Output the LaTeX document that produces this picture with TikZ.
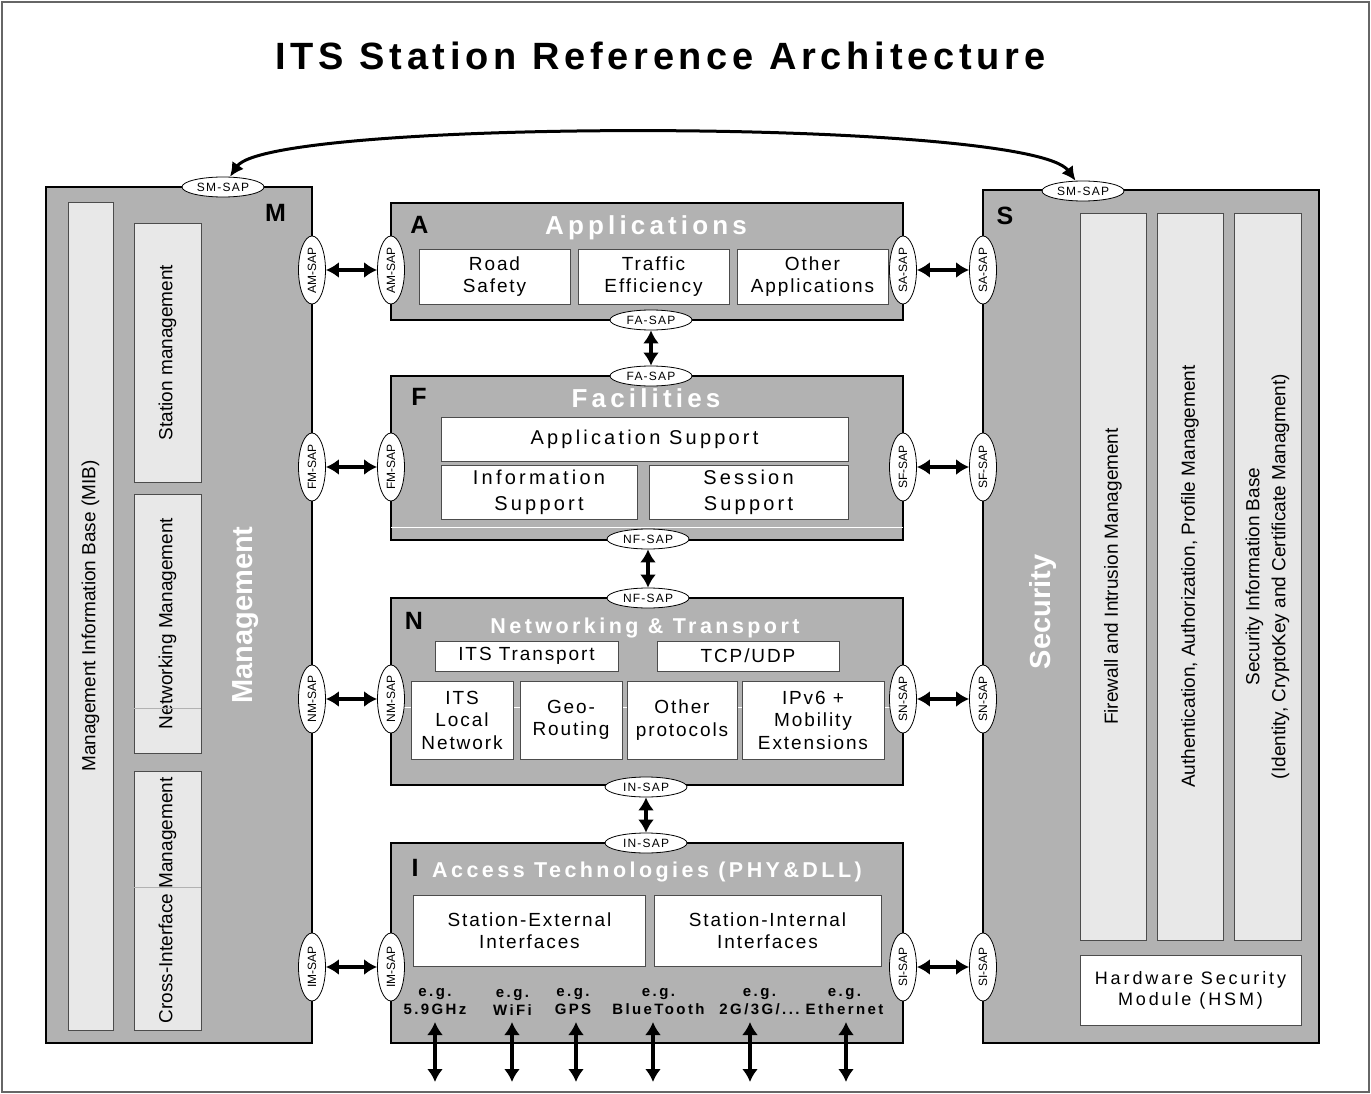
\documentclass[tikz,border=0pt]{standalone}
\usepackage{fontspec}
\setmainfont{Liberation Sans}
\newfontfamily\espfont[LetterSpace=10]{Liberation Sans}
\newfontfamily\larfont[LetterSpace=16]{Liberation Sans}
\newfontfamily\titrefont[LetterSpace=12.5]{Liberation Sans}
\usetikzlibrary{shapes.geometric,arrows.meta}
\definecolor{grisfonce}{gray}{0.70}
\definecolor{grisclair}{gray}{0.91}
\begin{document}
\begin{tikzpicture}[x=1pt,y=-1pt]
	\tikzstyle{couche}=[draw=black,line width=1.6pt,fill=grisfonce,inner sep=0pt,outer sep=0pt]
	\tikzstyle{colonne}=[draw=black!70,line width=0.9pt,fill=grisclair,inner sep=0pt,outer sep=0pt,rotate=90,align=center,font=\fontsize{19}{26}\selectfont]
	\tikzstyle{boite}=[draw=black!70,line width=0.9pt,fill=white,inner sep=0pt,outer sep=0pt,align=center,font=\espfont\fontsize{19}{22.5}\selectfont]
	\tikzstyle{sap}=[ellipse,draw=black,line width=0.8pt,fill=white,inner sep=0pt,minimum width=82,minimum height=20,font=\espfont\fontsize{12}{14}\selectfont]
	\tikzstyle{sapv}=[sap,rotate=90,minimum width=68,minimum height=27,font=\fontsize{12}{14}\selectfont]
	\tikzstyle{fleche}=[<->,>={Latex[length=13pt,width=16pt]},line width=3.4pt]
	\tikzstyle{lettre}=[anchor=base,inner sep=0pt,font=\bfseries\fontsize{25}{30}\selectfont]
	\tikzstyle{titreCouche}=[anchor=base,inner sep=0pt,text=white]
	\tikzstyle{titreCote}=[rotate=90,inner sep=0pt,text=white,font=\bfseries\fontsize{29}{34}\selectfont]
	\tikzstyle{exemple}=[align=center,inner sep=0pt,font=\larfont\bfseries\fontsize{15}{18}\selectfont]
	\def\grandTitre{\titrefont\bfseries\fontsize{38}{44}\selectfont}
	\def\titreHaut{\larfont\bfseries\fontsize{26}{30}\selectfont}
	\def\titreBas{\larfont\bfseries\fontsize{21.5}{25}\selectfont}
	\useasboundingbox (0,0) rectangle (1371,1094);
	% cadre et titre
	\node[draw=black!60,line width=1.5pt,inner sep=0pt,minimum width=1367,minimum height=1090] (cadre) at (685.5,547) {};
	\node[anchor=base,inner sep=0pt,font=\grandTitre] (titre) at (660.5,70) {ITS Station Reference Architecture};
	% Management
	\node[couche,minimum width=266,minimum height=856] (M) at (179,615) {};
	\node[colonne,minimum width=828,minimum height=45] (mib) at (90.5,616) {Management Information Base (MIB)};
	\node[colonne,minimum width=259,minimum height=67] (gestStation) at (167.5,352.5) {Station management};
	\node[colonne,minimum width=259,minimum height=67] (gestReseau) at (167.5,623.5) {Networking Management};
	\node[colonne,minimum width=259,minimum height=67] (gestInterface) at (167.5,900.5) {Cross-Interface Management};
	\draw[black!30,line width=0.5pt] (134,708) -- (201,708);
	\draw[black!30,line width=0.5pt] (134,887) -- (201,887);
	\node[titreCote] (titreM) at (245.5,615) {Management};
	\node[lettre] (lettreM) at (275.5,222) {M};
	% Security
	\node[couche,minimum width=336,minimum height=853] (S) at (1151,616.5) {};
	\node[colonne,minimum width=727,minimum height=66] (parefeu) at (1113,576.5) {Firewall and Intrusion Management};
	\node[colonne,minimum width=727,minimum height=66] (authentif) at (1190,576.5) {Authentication, Authorization, Profile Management};
	\node[colonne,minimum width=727,minimum height=67] (sib) at (1267.5,576.5) {Security Information Base\\(Identity, CryptoKey and Certificate Managment)};
	\node[boite,minimum width=221,minimum height=70,font=\larfont\fontsize{18}{21}\selectfont] (hsm) at (1190.5,990) {Hardware Security\\Module (HSM)};
	\node[titreCote] (titreS) at (1043,612) {Security};
	\node[lettre] (lettreS) at (1005,225) {S};
	% Applications
	\node[couche,minimum width=512,minimum height=117] (A) at (647,261.5) {};
	\node[boite,minimum width=151,minimum height=55] (securite) at (494.5,276.5) {Road\\Safety};
	\node[boite,minimum width=151,minimum height=55] (trafic) at (653.5,276.5) {Traffic\\Efficiency};
	\node[boite,minimum width=151,minimum height=55] (autresApp) at (812.5,276.5) {Other\\Applications};
	\node[titreCouche,font=\titreHaut] (titreA) at (646,235) {Applications};
	\node[lettre] (lettreA) at (419.5,234) {A};
	% Facilities
	\node[couche,minimum width=512,minimum height=164] (F) at (647,458) {};
	\draw[white,line width=1pt] ([yshift=13pt]F.south west) -- ([yshift=13pt]F.south east);
	\node[boite,minimum width=407,minimum height=44,font=\larfont\fontsize{20}{26}\selectfont] (supportApp) at (644.5,439) {Application Support};
	\node[boite,minimum width=196,minimum height=54,font=\larfont\fontsize{20}{26}\selectfont] (supportInfo) at (539,492) {Information\\Support};
	\node[boite,minimum width=199,minimum height=54,font=\larfont\fontsize{20}{26}\selectfont] (supportSession) at (748.5,492) {Session\\Support};
	\node[titreCouche,font=\titreHaut] (titreF) at (646,407) {Facilities};
	\node[lettre] (lettreF) at (419,405) {F};
	% Networking & Transport
	\node[couche,minimum width=512,minimum height=187] (N) at (647,691.5) {};
	\draw[white,line width=1pt] ([yshift=78pt]N.south west) -- ([yshift=78pt]N.south east);
	\node[boite,minimum width=183,minimum height=30] (transportITS) at (526.5,656) {ITS Transport};
	\node[boite,minimum width=182,minimum height=30] (tcp) at (748,656) {TCP/UDP};
	\node[boite,minimum width=102,minimum height=78] (reseauLocal) at (462,720) {ITS\\Local\\Network};
	\node[boite,minimum width=102,minimum height=78] (geo) at (571,720) {Geo-\\Routing};
	\node[boite,minimum width=110,minimum height=78] (autresProt) at (682,720) {Other\\protocols};
	\node[boite,minimum width=142,minimum height=78] (ipv6) at (813,720) {IPv6 +\\Mobility\\Extensions};
	\node[titreCouche,font=\titreBas] (titreN) at (645,633) {Networking \& Transport};
	\node[lettre] (lettreN) at (414,629) {N};
	% Access Technologies
	\node[couche,minimum width=512,minimum height=200] (I) at (647,943) {};
	\node[boite,minimum width=232,minimum height=71] (externe) at (529.5,930.5) {Station-External\\Interfaces};
	\node[boite,minimum width=227,minimum height=71] (interne) at (767.5,930.5) {Station-Internal\\Interfaces};
	\node[titreCouche,font=\titreBas] (titreI) at (647,877) {Access Technologies (PHY\&DLL)};
	\node[lettre] (lettreI) at (415,876) {I};
	\foreach \x/\t [count=\i] in {435/5.9GHz,512.5/WiFi,573/GPS,658.5/BlueTooth,759.5/{2G/3G/...},844.5/Ethernet}
		\node[exemple] (eg\i) at (\x,1002) {e.g.\\\t};
	% SAP
	\node[sap] (smM) at (223,187) {SM-SAP};
	\node[sap] (smS) at (1083,191) {SM-SAP};
	\node[sapv] (amM) at (312,270) {AM-SAP};
	\node[sapv] (amA) at (391,270) {AM-SAP};
	\node[sapv] (saA) at (903,270) {SA-SAP};
	\node[sapv] (saS) at (983,270) {SA-SAP};
	\node[sapv] (fmM) at (312,467) {FM-SAP};
	\node[sapv] (fmF) at (391,467) {FM-SAP};
	\node[sapv] (sfF) at (903,467) {SF-SAP};
	\node[sapv] (sfS) at (983,467) {SF-SAP};
	\node[sapv] (nmM) at (312,699) {NM-SAP};
	\node[sapv] (nmN) at (391,699) {NM-SAP};
	\node[sapv] (snN) at (903,699) {SN-SAP};
	\node[sapv] (snS) at (983,699) {SN-SAP};
	\node[sapv] (imM) at (312,967) {IM-SAP};
	\node[sapv] (imI) at (391,967) {IM-SAP};
	\node[sapv] (siI) at (903,967) {SI-SAP};
	\node[sapv] (siS) at (983,967) {SI-SAP};
	\node[sap] (faA) at (651,320) {FA-SAP};
	\node[sap] (faF) at (651,376) {FA-SAP};
	\node[sap] (nfF) at (648,539) {NF-SAP};
	\node[sap] (nfN) at (648,598) {NF-SAP};
	\node[sap] (inN) at (646,787) {IN-SAP};
	\node[sap] (inI) at (646,843) {IN-SAP};
	% fleches
	\draw[fleche,line width=3pt,>={Latex[length=14pt,width=14pt]}] (smM) .. controls (270,118) and (1030,118) .. (smS);
	\draw[fleche] (amM) -- (amA);
	\draw[fleche] (saA) -- (saS);
	\draw[fleche] (fmM) -- (fmF);
	\draw[fleche] (sfF) -- (sfS);
	\draw[fleche] (nmM) -- (nmN);
	\draw[fleche] (snN) -- (snS);
	\draw[fleche] (imM) -- (imI);
	\draw[fleche] (siI) -- (siS);
	\draw[fleche] (faA) -- (faF);
	\draw[fleche] (nfF) -- (nfN);
	\draw[fleche] (inN) -- (inI);
	\foreach \x [count=\i] in {435,512,576,653,750,846} {
		\coordinate (haut\i) at (\x,1022);
		\coordinate (bas\i) at (\x,1082);
		\draw[fleche] (haut\i) -- (bas\i);
	}
\end{tikzpicture}
\end{document}
